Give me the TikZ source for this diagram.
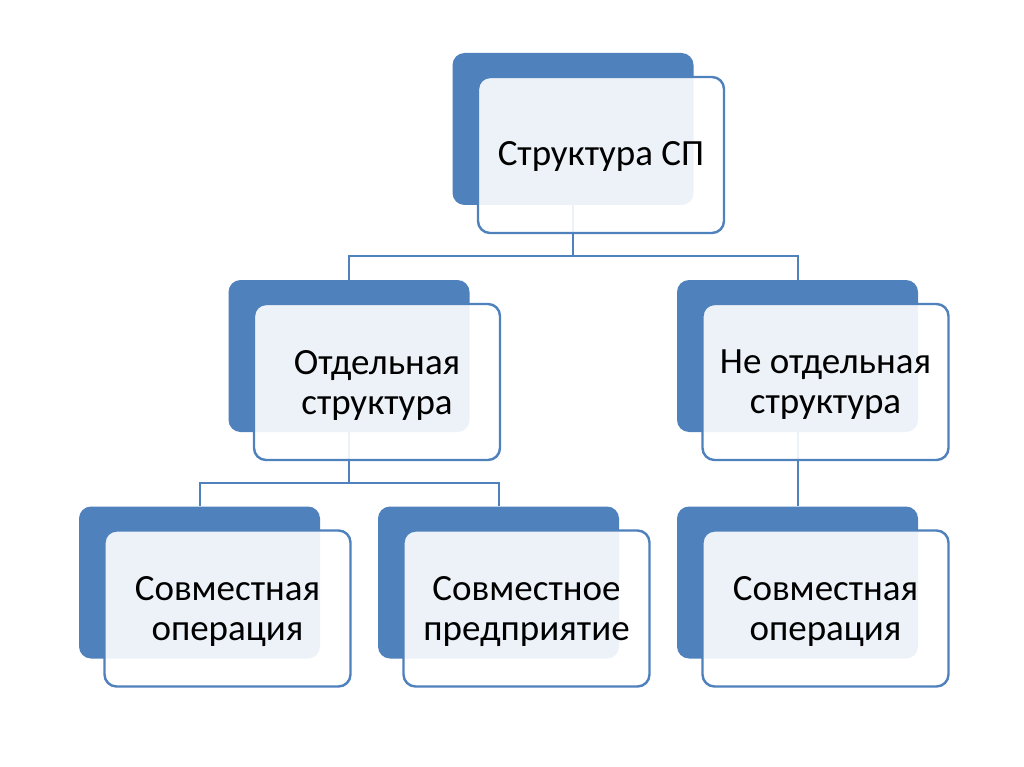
\documentclass[tikz,border=0pt]{standalone}
\usepackage{fontspec}
\setmainfont{Carlito}
\definecolor{obl}{HTML}{4F81BD}
\begin{document}
\begin{tikzpicture}[x=1pt,y=-1pt,
  darkbox/.style={fill=obl, draw=none, rounded corners=12pt, minimum width=241pt, minimum height=152pt, inner sep=0pt},
  lightbox/.style={fill=white, fill opacity=0.9, draw=obl, draw opacity=1, line width=2.4pt, rounded corners=12pt, minimum width=246pt, minimum height=156pt, inner sep=0pt},
  txt/.style={align=center, font=\fontsize{37}{40}\selectfont, text=black, inner sep=0pt},
  conn/.style={draw=obl, line width=2pt}]
\useasboundingbox (0,0) rectangle (1024,767);
\fill[white] (0,0) rectangle (1024,767);
% dark boxes
\node[darkbox] (d1) at (573,129) {};
\node[darkbox] (d2) at (349,356) {};
\node[darkbox] (d3) at (797.5,356) {};
\node[darkbox] (d4) at (199.5,582.5) {};
\node[darkbox] (d5) at (498.5,582.5) {};
\node[darkbox] (d6) at (797.5,582.5) {};
% connectors
\coordinate (j1) at (573,256);
\coordinate (j2) at (349,483);
\draw[conn] (d1.south) -- (j1);
\draw[conn] (j1) -| (d2.north);
\draw[conn] (j1) -| (d3.north);
\draw[conn] (d2.south) -- (j2);
\draw[conn] (j2) -| (d4.north);
\draw[conn] (j2) -| (d5.north);
\draw[conn] (d3.south) -- (d6.north);
% light boxes
\node[lightbox] (l1) at (601,155) {};
\node[lightbox] (l2) at (377,382) {};
\node[lightbox] (l3) at (825.5,382) {};
\node[lightbox] (l4) at (227.5,608.5) {};
\node[lightbox] (l5) at (526.5,608.5) {};
\node[lightbox] (l6) at (825.5,608.5) {};
% texts
\node[txt] (t1) at ([yshift=-1pt]l1.center) {Структура СП};
\node[txt] (t2) at ([yshift=-3pt]l2.center) {Отдельная\\структура};
\node[txt] (t3) at ([yshift=-3pt]l3.center) {Не отдельная\\структура};
\node[txt] (t4) at ([yshift=-3pt]l4.center) {Совместная\\операция};
\node[txt] (t5) at ([yshift=-3pt]l5.center) {Совместное\\предприятие};
\node[txt] (t6) at ([yshift=-3pt]l6.center) {Совместная\\операция};
\end{tikzpicture}
\end{document}
